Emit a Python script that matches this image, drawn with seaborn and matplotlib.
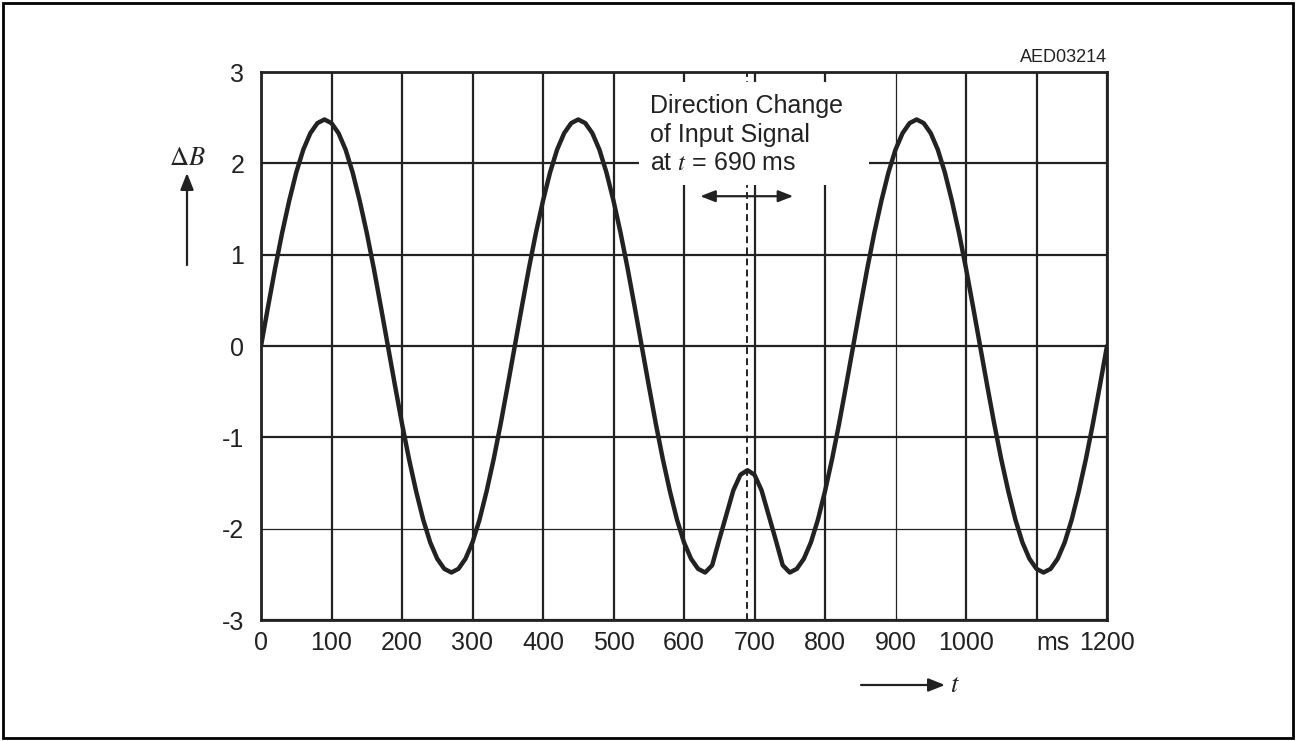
import matplotlib
matplotlib.use("Agg")
import matplotlib.pyplot as plt
from matplotlib.patches import Rectangle, FancyArrowPatch
import seaborn as sns
import pandas as pd

# Signal samples: time (ms) and field difference ΔB, every 10 ms
time_ms = list(range(0, 1201, 10))
delta_b = [
    0.00, 0.43, 0.85, 1.24, 1.59, 1.90, 2.15, 2.33, 2.44, 2.48,        # 0-90
    2.44, 2.33, 2.15, 1.90, 1.59, 1.24, 0.85, 0.43, 0.00, -0.43,       # 100-190
    -0.85, -1.24, -1.59, -1.90, -2.15, -2.33, -2.44, -2.48, -2.44, -2.33,  # 200-290
    -2.15, -1.90, -1.59, -1.24, -0.85, -0.43, 0.00, 0.43, 0.85, 1.24,  # 300-390
    1.59, 1.90, 2.15, 2.33, 2.44, 2.48, 2.44, 2.33, 2.15, 1.90,        # 400-490
    1.59, 1.24, 0.85, 0.43, 0.00, -0.43, -0.85, -1.24, -1.59, -1.90,   # 500-590
    -2.15, -2.33, -2.44, -2.48, -2.40, -2.12, -1.85, -1.58, -1.41, -1.36,  # 600-690
    -1.41, -1.58, -1.85, -2.12, -2.40, -2.48, -2.44, -2.33, -2.15, -1.90,  # 700-790
    -1.59, -1.24, -0.85, -0.43, 0.00, 0.43, 0.85, 1.24, 1.59, 1.90,    # 800-890
    2.15, 2.33, 2.44, 2.48, 2.44, 2.33, 2.15, 1.90, 1.59, 1.24,        # 900-990
    0.85, 0.43, 0.00, -0.43, -0.85, -1.24, -1.59, -1.90, -2.15, -2.33,  # 1000-1090
    -2.44, -2.48, -2.44, -2.33, -2.15, -1.90, -1.59, -1.24, -0.85, -0.43,  # 1100-1190
    0.00,                                                              # 1200
]

x_ticks = [0, 100, 200, 300, 400, 500, 600, 700, 800, 900, 1000, 1100, 1200]
x_tick_labels = ["0", "100", "200", "300", "400", "500", "600", "700", "800", "900",
                 "1000", "", "1200"]
y_ticks = [-3, -2, -1, 0, 1, 2, 3]
y_tick_labels = ["-3", "-2", "-1", "0", "1", "2", "3"]

change_time = 690
arrow_span = [623, 755]
arrow_level = 1.64
note_text = "Direction Change\nof Input Signal\nat $t$ = 690 ms"
drawing_id = "AED03214"

INK = "#222222"

sns.set_style("white")
plt.rcParams["font.family"] = ["Liberation Sans", "DejaVu Sans"]
plt.rcParams["mathtext.fontset"] = "stix"

W, H = 1296, 741
fig = plt.figure(figsize=(W / 100, H / 100), dpi=100)
ax = fig.add_axes([261 / W, 1 - 620 / H, 846 / W, 548 / H])

df = pd.DataFrame({"t": time_ms, "dB": delta_b})
sns.lineplot(data=df, x="t", y="dB", ax=ax, color=INK, lw=3.2, zorder=5,
             solid_joinstyle="round", solid_capstyle="round")

ax.set_xlim(0, 1200)
ax.set_ylim(-3, 3)
ax.set_xticks(x_ticks)
ax.set_xticklabels(x_tick_labels)
ax.set_yticks(y_ticks)
ax.set_yticklabels(y_tick_labels)
ax.set_xlabel("")
ax.set_ylabel("")
ax.tick_params(axis="both", length=0, labelsize=18, labelcolor=INK)
ax.tick_params(axis="x", pad=8)
ax.tick_params(axis="y", pad=12)

# grid: heavy lines, with two lighter ones
ax.grid(True, color=INK, lw=1.6, zorder=1)
ax.set_axisbelow(True)
for val, gl in zip(x_ticks, ax.get_xgridlines()):
    if val == 900:
        gl.set_linewidth(0.9)
for val, gl in zip(y_ticks, ax.get_ygridlines()):
    if val == -2:
        gl.set_linewidth(0.9)

for sp in ax.spines.values():
    sp.set_visible(True)
    sp.set_color(INK)
    sp.set_linewidth(2.0)
    sp.set_zorder(6)

# direction-change marker
ax.axvline(change_time, color=INK, lw=1.4, ls=(0, (3.5, 2.2)), zorder=2)

# white panel behind the note
ax.add_patch(Rectangle((536, 1.76), 326, 1.13, facecolor="white", edgecolor="none",
                       zorder=3))
ax.text(552, 2.76, note_text, fontsize=18, color=INK, ha="left", va="top",
        linespacing=1.25, zorder=4)
for end in arrow_span:
    ax.annotate("", xy=(end, arrow_level), xytext=(change_time, arrow_level),
                arrowprops=dict(arrowstyle="-|>,head_length=0.9,head_width=0.35",
                                color=INK, lw=1.6, shrinkA=0, shrinkB=0), zorder=4)

# unit next to the last tick label
ax.annotate("ms", xy=(1147, 0), xycoords=("data", "axes fraction"),
            xytext=(0, -8), textcoords="offset points", ha="right", va="top",
            fontsize=18, color=INK)

# drawing id
ax.annotate(drawing_id, xy=(1, 1), xycoords="axes fraction", xytext=(0, 4),
            textcoords="offset points", ha="right", va="bottom", fontsize=13,
            color=INK, family=["Liberation Sans Narrow", "Liberation Sans"])

# axis quantity arrows
fig.text(187 / W, 1 - 158 / H, r"$\Delta B$", fontsize=19, color=INK,
         ha="center", va="center")
fig.patches.append(FancyArrowPatch(
    (187 / W, 1 - 265 / H), (187 / W, 1 - 173 / H), transform=fig.transFigure,
    arrowstyle="-|>,head_length=10,head_width=4", color=INK, lw=1.6,
    shrinkA=0, shrinkB=0))
fig.patches.append(FancyArrowPatch(
    (861 / W, 1 - 685 / H), (945 / W, 1 - 685 / H), transform=fig.transFigure,
    arrowstyle="-|>,head_length=10,head_width=4", color=INK, lw=1.6,
    shrinkA=0, shrinkB=0))
fig.text(950 / W, 1 - 685 / H, r"$t$", fontsize=19, color=INK,
         ha="left", va="center")

# outer frame
fig.patches.append(Rectangle((3 / W, 3 / H), 1 - 6 / W, 1 - 6 / H,
                             transform=fig.transFigure, fill=False,
                             edgecolor="black", lw=2.0))

fig.savefig("out.png", dpi=100)
